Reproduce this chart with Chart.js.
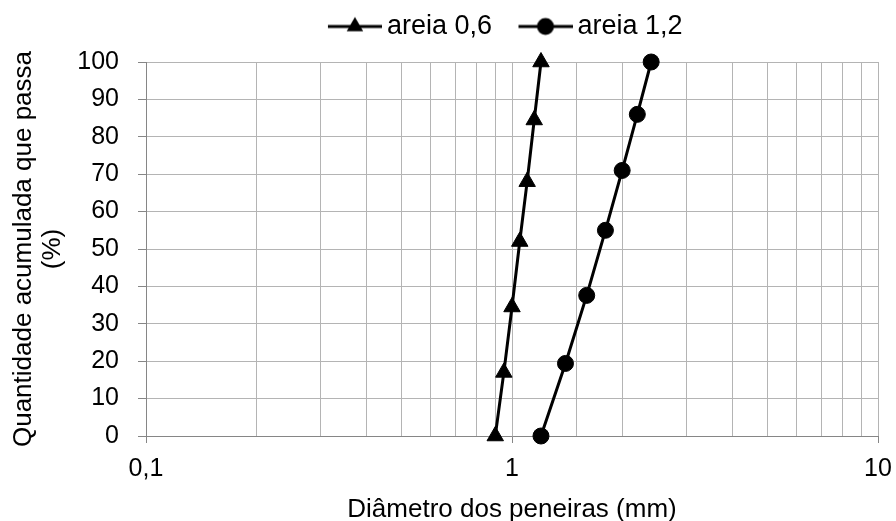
<!DOCTYPE html>
<html><head><meta charset="utf-8">
<script src="https://cdn.jsdelivr.net/npm/chart.js@4/dist/chart.umd.min.js"></script>
<style>html,body{margin:0;padding:0;background:#fff;}#wrap{width:896px;height:521px;}</style>
</head><body><div id="wrap"><canvas id="c" width="896" height="521"></canvas></div>
<script>
const seriesNames = ['areia 0,6', 'areia 1,2'];
const areia06Diam = [0.9, 0.95, 1.0, 1.05, 1.1, 1.15, 1.2];
const areia06Pass = [0, 17, 34.5, 52, 68, 84.5, 100];
const areia12Diam = [1.2, 1.4, 1.6, 1.8, 2.0, 2.2, 2.4];
const areia12Pass = [0, 19.4, 37.6, 55, 71, 86, 100];
const xMajorTicks = [0.1, 1, 10];
const xTickLabels = ['0,1', '1', '10'];
const xTitle = 'Diâmetro dos peneiras (mm)';
const yTitle = ['Quantidade acumulada que passa', '(%)'];

const FONT = "'Liberation Sans', Arial, sans-serif";
const FS_TICK = 25;
const FS_TITLE = 26;
const FS_LEGEND = 27;
const GRID = '#b4b4b4';
const AXIS = '#868686';

function majorIndex(v) {
  for (let i = 0; i < xMajorTicks.length; i++) {
    if (Math.abs(v - xMajorTicks[i]) / xMajorTicks[i] < 1e-6) return i;
  }
  return -1;
}

// legend symbol: line with marker, placed at the right part of a wider transparent canvas
const LEG_BOX = 56;
const LEG_W = LEG_BOX + FS_LEGEND - 10;
function legendImage(style) {
  const c = document.createElement('canvas');
  c.width = LEG_W; c.height = 22;
  const g = c.getContext('2d');
  const x0 = LEG_W - 54, cx = LEG_W - 27, cy = 11;
  g.strokeStyle = '#000'; g.fillStyle = '#000'; g.lineWidth = 3;
  g.beginPath(); g.moveTo(x0, cy); g.lineTo(LEG_W, cy); g.stroke();
  g.beginPath();
  if (style === 'triangle') {
    const r = 9.5;
    g.moveTo(cx, cy - r);
    g.lineTo(cx + r * Math.sin(2 * Math.PI / 3), cy + r / 2);
    g.lineTo(cx - r * Math.sin(2 * Math.PI / 3), cy + r / 2);
    g.closePath();
  } else {
    g.arc(cx, cy, 8.5, 0, Math.PI * 2);
  }
  g.fill();
  return c;
}
const legendImgs = [legendImage('triangle'), legendImage('circle')];

const legendShift = {
  id: 'legendShift',
  afterLayout(chart) {
    const lg = chart.legend;
    if (!lg) return;
    const dx = -12, dy = -12;
    lg.left += dx; lg.right += dx;
    lg.top += dy; lg.bottom += dy;
  }
};

function toXY(xs, ys) { return xs.map((x, i) => ({ x: x, y: ys[i] })); }

new Chart(document.getElementById('c'), {
  type: 'line',
  data: {
    datasets: [
      { label: seriesNames[0], data: toXY(areia06Diam, areia06Pass),
        borderColor: '#000', backgroundColor: '#000', borderWidth: 3,
        pointStyle: 'triangle', pointRadius: 9.5, pointBorderWidth: 1, clip: false, tension: 0 },
      { label: seriesNames[1], data: toXY(areia12Diam, areia12Pass),
        borderColor: '#000', backgroundColor: '#000', borderWidth: 3,
        pointStyle: 'circle', pointRadius: 8, pointBorderWidth: 1, clip: false, tension: 0 }
    ]
  },
  options: {
    responsive: false,
    animation: false,
    devicePixelRatio: 1,
    layout: { padding: { left: 6, right: 18, top: 9, bottom: 0 } },
    plugins: {
      legend: {
        display: true,
        position: 'top',
        fullSize: false,
        labels: {
          usePointStyle: true,
          pointStyleWidth: LEG_BOX,
          padding: 16,
          color: '#000',
          font: { family: FONT, size: FS_LEGEND },
          generateLabels(chart) {
            const items = Chart.defaults.plugins.legend.labels.generateLabels(chart);
            items.forEach((it, i) => { it.pointStyle = legendImgs[i]; });
            return items;
          }
        }
      },
      tooltip: { enabled: false }
    },
    scales: {
      x: {
        type: 'logarithmic',
        position: 'bottom',
        min: 0.1, max: 10,
        border: { color: AXIS, width: 1 },
        grid: {
          color: GRID, lineWidth: 1, tickLength: 7,
          tickColor: (ctx) => (ctx.tick && majorIndex(ctx.tick.value) >= 0 ? AXIS : 'rgba(0,0,0,0)')
        },
        ticks: {
          autoSkip: false, maxRotation: 0, color: '#000', padding: 11,
          font: { family: FONT, size: FS_TICK },
          callback: (v) => { const i = majorIndex(v); return i >= 0 ? xTickLabels[i] : ''; }
        },
        title: { display: true, text: xTitle, color: '#000', font: { family: FONT, size: FS_TITLE, lineHeight: 0.85 }, padding: { top: 4, bottom: 0 } },
        afterFit: (s) => { s.height = 85; s.paddingRight = 0; s.paddingLeft = 0; }
      },
      y: {
        min: 0, max: 100,
        border: { color: AXIS, width: 1 },
        grid: { color: GRID, lineWidth: 1, tickLength: 8, tickColor: AXIS },
        ticks: { stepSize: 10, color: '#000', padding: 19, font: { family: FONT, size: FS_TICK } },
        title: { display: true, text: yTitle, color: '#000', font: { family: FONT, size: FS_TITLE, lineHeight: 1.115 }, padding: { top: 3.5, bottom: 0 } },
        afterFit: (s) => { s.width = 140; s.paddingTop = 0; s.paddingBottom = 0; }
      }
    }
  },
  plugins: [legendShift]
});
</script>
</body></html>
